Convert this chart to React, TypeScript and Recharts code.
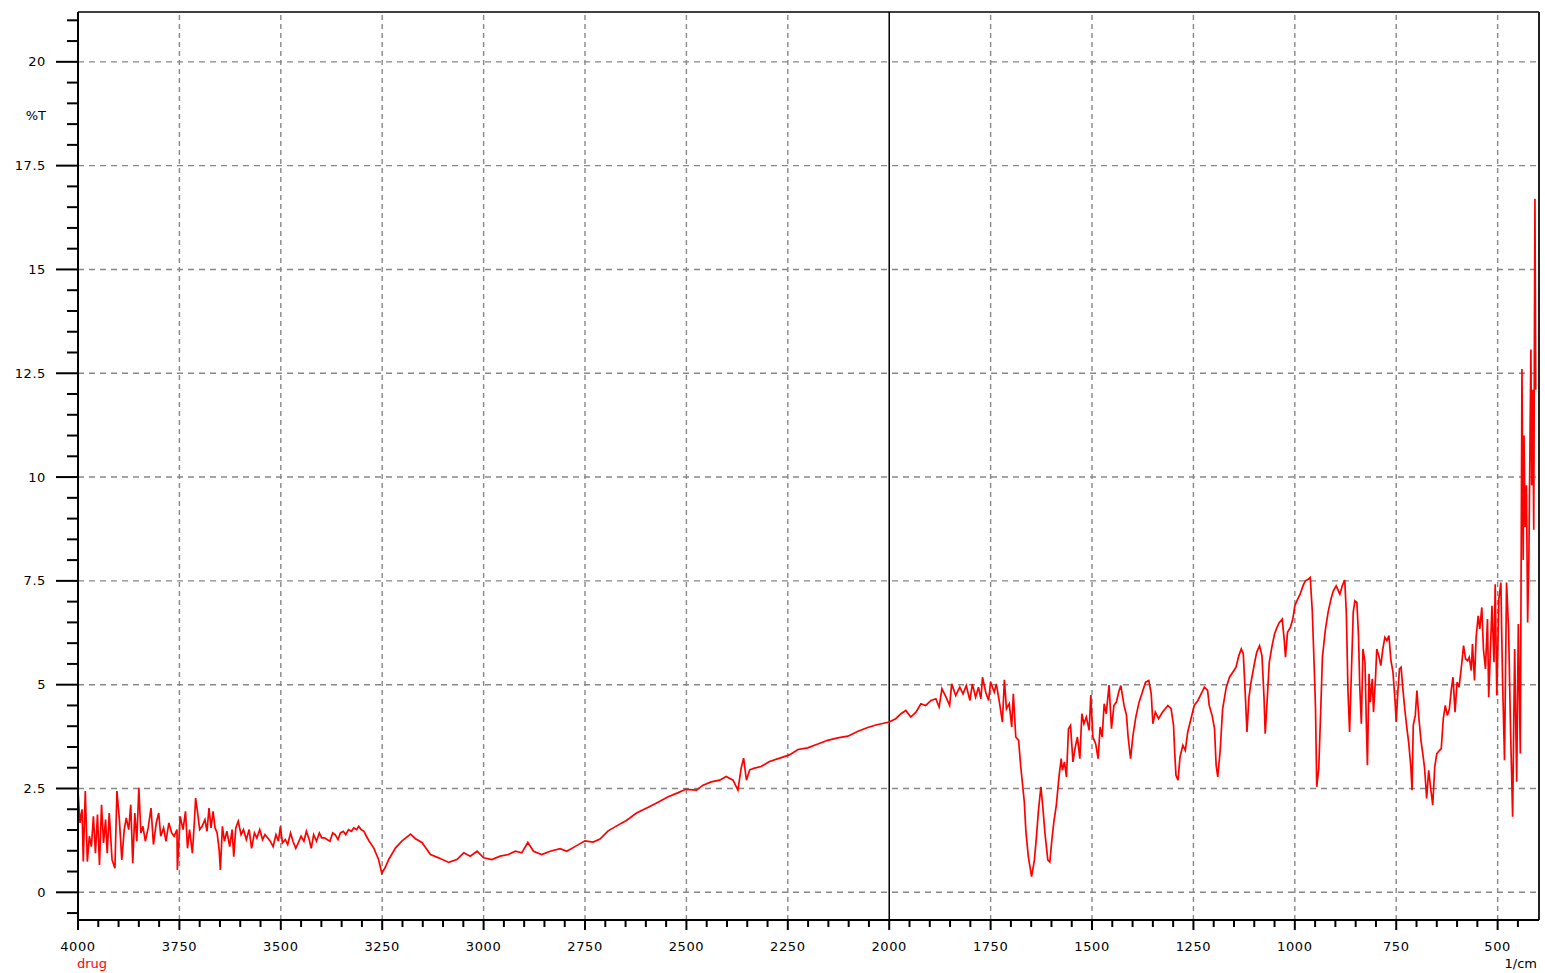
import { Line, LineChart, ReferenceLine, XAxis, YAxis } from "recharts";

// IR spectrum: [wavenumber (1/cm), %T], high → low wavenumber.
const band4000to3280: [number, number][] = [
  [4000, 2.44], [3995, 1.67], [3990, 2.0], [3987, 0.74], [3982, 2.44], [3977, 0.74],
  [3972, 1.35], [3967, 1.1], [3962, 1.83], [3957, 0.94], [3952, 1.87], [3947, 0.66],
  [3942, 2.11], [3937, 1.19], [3932, 1.75], [3928, 0.94], [3923, 1.91], [3916, 0.78],
  [3909, 0.58], [3904, 2.44], [3898, 1.75], [3892, 0.78], [3886, 1.51], [3881, 1.79],
  [3875, 1.51], [3870, 2.11], [3865, 0.7], [3860, 1.91], [3855, 1.23], [3850, 2.52],
  [3845, 1.43], [3840, 1.59], [3834, 1.23], [3827, 1.55], [3820, 2.03], [3814, 1.15],
  [3807, 1.67], [3801, 1.91], [3796, 1.35], [3789, 1.55], [3783, 1.23], [3776, 1.67],
  [3769, 1.43], [3763, 1.35], [3756, 1.51], [3755, 0.54], [3748, 1.83], [3741, 1.51],
  [3735, 1.95], [3730, 1.06], [3725, 1.51], [3718, 0.94], [3713, 1.71], [3710, 2.27],
  [3705, 1.91], [3700, 1.51], [3694, 1.59], [3687, 1.75], [3682, 1.47], [3677, 2.03],
  [3672, 1.55], [3667, 1.95], [3662, 1.55], [3657, 1.43], [3652, 1.02], [3649, 0.54],
  [3644, 1.59], [3639, 1.23], [3633, 1.47], [3626, 1.1], [3620, 1.51], [3616, 0.86],
  [3611, 1.55], [3605, 1.71], [3598, 1.39], [3592, 1.51], [3585, 1.27], [3578, 1.51],
  [3572, 1.06], [3565, 1.43], [3559, 1.31], [3552, 1.51], [3545, 1.27], [3539, 1.39],
  [3532, 1.31], [3526, 1.23], [3519, 1.1], [3512, 1.39], [3506, 1.23], [3501, 1.59],
  [3496, 1.19], [3489, 1.27], [3483, 1.15], [3476, 1.43], [3470, 1.23], [3463, 1.06],
  [3457, 1.19], [3450, 1.35], [3443, 1.23], [3437, 1.47], [3430, 1.27], [3425, 1.06],
  [3419, 1.39], [3412, 1.23], [3405, 1.43], [3399, 1.31], [3392, 1.31], [3386, 1.27],
  [3379, 1.23], [3372, 1.43], [3366, 1.39], [3359, 1.27], [3353, 1.43], [3346, 1.47],
  [3340, 1.39], [3333, 1.51], [3326, 1.47], [3320, 1.55], [3313, 1.51], [3308, 1.59],
  [3302, 1.51], [3295, 1.47], [3289, 1.35], [3282, 1.23],
];

const band3280to2030: [number, number][] = [
  [3271, 1.07], [3259, 0.79], [3251, 0.46], [3243, 0.59], [3234, 0.79], [3217, 1.07],
  [3201, 1.24], [3180, 1.4], [3168, 1.29], [3152, 1.2], [3131, 0.91], [3111, 0.83],
  [3086, 0.72], [3066, 0.79], [3049, 0.95], [3033, 0.87], [3016, 0.99], [3000, 0.83],
  [2980, 0.79], [2959, 0.87], [2939, 0.91], [2922, 0.99], [2906, 0.95], [2891, 1.2],
  [2877, 0.99], [2857, 0.91], [2836, 0.99], [2811, 1.05], [2795, 0.99], [2775, 1.1],
  [2750, 1.24], [2730, 1.21], [2713, 1.28], [2693, 1.48], [2672, 1.6], [2648, 1.73],
  [2623, 1.91], [2594, 2.05], [2570, 2.17], [2545, 2.3], [2520, 2.4], [2502, 2.48],
  [2475, 2.46], [2459, 2.58], [2439, 2.66], [2418, 2.7], [2402, 2.79], [2385, 2.7],
  [2373, 2.46], [2365, 2.99], [2359, 3.23], [2352, 2.7], [2344, 2.95], [2332, 2.99],
  [2316, 3.03], [2295, 3.15], [2270, 3.23], [2246, 3.31], [2225, 3.44], [2201, 3.48],
  [2176, 3.57], [2152, 3.66], [2127, 3.72], [2102, 3.76], [2077, 3.88], [2053, 3.97],
  [2033, 4.03],
];

const band2000to1360: [number, number][] = [
  [2000, 4.1], [1984, 4.18], [1971, 4.3], [1959, 4.38], [1947, 4.22], [1934, 4.34],
  [1922, 4.54], [1910, 4.5], [1897, 4.62], [1885, 4.66], [1877, 4.46], [1870, 4.9],
  [1860, 4.7], [1851, 4.5], [1846, 5.02], [1836, 4.74], [1826, 4.94], [1818, 4.78],
  [1810, 4.98], [1801, 4.62], [1795, 5.02], [1787, 4.7], [1780, 4.94], [1774, 4.66],
  [1770, 5.18], [1762, 4.82], [1755, 4.62], [1750, 5.06], [1741, 4.82], [1736, 5.02],
  [1729, 4.62], [1721, 4.1], [1716, 5.12], [1711, 4.42], [1704, 4.54], [1698, 3.98],
  [1694, 4.78], [1688, 3.74], [1681, 3.66], [1676, 3.06], [1667, 2.18], [1663, 1.46],
  [1657, 0.86], [1649, 0.38], [1642, 0.78], [1637, 1.34], [1632, 1.98], [1626, 2.54],
  [1621, 2.02], [1616, 1.42], [1609, 0.78], [1604, 0.73], [1599, 1.26], [1594, 1.7],
  [1588, 2.1], [1581, 2.82], [1576, 3.22], [1573, 2.94], [1568, 3.14], [1563, 2.78],
  [1558, 3.94], [1553, 4.02], [1547, 3.14], [1542, 3.46], [1536, 3.74], [1530, 3.22],
  [1525, 4.3], [1520, 4.06], [1514, 4.22], [1507, 3.9], [1503, 4.75], [1498, 3.74],
  [1491, 3.58], [1485, 3.22], [1480, 3.98], [1475, 3.74], [1470, 4.54], [1465, 4.3],
  [1458, 4.99], [1452, 3.94], [1446, 4.5], [1440, 4.58], [1434, 4.83], [1429, 4.98],
  [1421, 4.5], [1415, 4.26], [1411, 3.74], [1405, 3.22], [1399, 3.78], [1392, 4.22],
  [1384, 4.58], [1376, 4.82], [1368, 5.06], [1360, 5.1],
];

const band1355to895: [number, number][] = [
  [1354, 4.78], [1350, 4.06], [1344, 4.34], [1336, 4.18], [1326, 4.34], [1313, 4.5],
  [1305, 4.42], [1299, 4.02], [1296, 3.34], [1293, 2.82], [1288, 2.7], [1283, 3.26],
  [1276, 3.54], [1270, 3.42], [1264, 3.86], [1256, 4.18], [1248, 4.5], [1239, 4.62],
  [1231, 4.78], [1223, 4.94], [1215, 4.86], [1211, 4.5], [1204, 4.26], [1198, 3.94],
  [1194, 3.06], [1190, 2.78], [1184, 3.42], [1178, 4.42], [1169, 4.94], [1161, 5.18],
  [1153, 5.3], [1145, 5.42], [1138, 5.7], [1132, 5.86], [1127, 5.74], [1122, 4.74],
  [1118, 3.86], [1113, 4.7], [1108, 5.06], [1099, 5.54], [1094, 5.78], [1087, 5.94],
  [1081, 5.7], [1076, 4.7], [1073, 3.82], [1068, 4.66], [1063, 5.54], [1056, 5.94],
  [1050, 6.22], [1044, 6.38], [1038, 6.5], [1031, 6.58], [1026, 6.06], [1023, 5.66],
  [1018, 6.26], [1011, 6.38], [1005, 6.58], [1000, 6.9], [993, 7.06], [987, 7.18],
  [980, 7.38], [974, 7.5], [967, 7.54], [962, 7.58], [957, 6.78], [952, 5.38],
  [949, 4.42], [946, 2.54], [941, 2.98], [936, 4.42], [932, 5.66], [925, 6.3],
  [918, 6.74], [911, 7.06], [905, 7.26], [898, 7.38],
];

const band890to405: [number, number][] = [
  [889, 7.18], [883, 7.38], [877, 7.52], [873, 6.74], [869, 4.86], [865, 3.86],
  [861, 5.14], [856, 6.74], [852, 7.02], [847, 6.98], [843, 6.18], [840, 4.98],
  [836, 4.06], [832, 5.86], [827, 5.54], [824, 4.18], [821, 3.06], [817, 5.26],
  [814, 4.58], [809, 5.14], [806, 4.34], [801, 5.18], [798, 5.86], [793, 5.7],
  [788, 5.46], [783, 5.86], [778, 6.14], [773, 6.06], [768, 6.18], [763, 5.58],
  [758, 5.3], [753, 4.62], [750, 4.1], [746, 4.82], [742, 5.38], [738, 5.42],
  [734, 4.94], [729, 4.42], [724, 3.98], [719, 3.58], [714, 3.02], [711, 2.46],
  [708, 4.02], [703, 4.26], [699, 4.86], [694, 4.18], [689, 3.66], [684, 3.3],
  [680, 2.98], [675, 2.26], [670, 2.94], [665, 2.5], [660, 2.1], [655, 3.02],
  [650, 3.34], [643, 3.42], [639, 3.46], [634, 4.18], [629, 4.5], [624, 4.26],
  [619, 4.42], [614, 4.9], [610, 5.18], [605, 4.34], [600, 5.06], [595, 4.94],
  [589, 5.46], [584, 5.94], [579, 5.62], [574, 5.58], [570, 5.66], [565, 5.34],
  [562, 5.98], [557, 5.1], [553, 6.14], [548, 6.66], [544, 6.34], [539, 6.86],
  [535, 5.86], [530, 5.38], [525, 6.58], [522, 4.7], [517, 6.06], [514, 6.9],
  [509, 5.54], [506, 7.42], [502, 4.74], [497, 7.06], [492, 7.46], [488, 5.18],
  [483, 3.18], [478, 7.46], [473, 6.34], [468, 3.86], [463, 1.82], [458, 5.86],
  [453, 2.66], [449, 6.46], [444, 3.34], [440, 12.6], [437, 8.0], [435, 11.0],
  [432, 8.8], [429, 9.8], [426, 6.5], [423, 8.0], [418, 13.07], [416, 9.8],
  [413, 12.1], [411, 8.73], [408, 16.7], [406, 12.1],
];

const xMajorTicks = [4000, 3750, 3500, 3250, 3000, 2750, 2500, 2250, 2000, 1750, 1500, 1250, 1000, 750, 500];
const yMajorTicks = [0, 2.5, 5, 7.5, 10, 12.5, 15, 17.5, 20];
const yTickLabels = ["0", "2.5", "5", "7.5", "10", "12.5", "15", "17.5", "20"];

const X_DOMAIN: [number, number] = [398, 4000];
const Y_DOMAIN: [number, number] = [-0.667, 21.2];

// minor ticks: every 50 1/cm and every 0.5 %T
const xTicks: number[] = [];
for (let v = 4000; v >= 450; v -= 50) xTicks.push(v);
const yTicks: number[] = [];
for (let i = -1; i <= 42; i++) yTicks.push(i / 2);

const rows = [
  ...band4000to3280,
  ...band3280to2030,
  ...band2000to1360,
  ...band1355to895,
  ...band890to405,
].map(([wn, t]) => ({ wn, t }));

const FONT = "'DejaVu Sans', sans-serif";
const GRID = "#888888";

function XTick(props: any) {
  const { x, y, payload } = props;
  const v = payload.value as number;
  const major = v % 250 === 0;
  return (
    <g>
      <line x1={x} x2={x} y1={y} y2={y + (major ? 10 : 7)} stroke="#000" strokeWidth={2} />
      {major && (
        <text x={x} y={y + 31} textAnchor="middle" fontFamily={FONT} fontSize={13} letterSpacing={0.6} fill="#000">
          {v}
        </text>
      )}
    </g>
  );
}

function YTick(props: any) {
  const { x, y, payload } = props;
  const v = payload.value as number;
  const idx = yMajorTicks.indexOf(v);
  const major = idx >= 0;
  return (
    <g>
      <line x1={x} x2={x - (major ? 22 : 11)} y1={y} y2={y} stroke="#000" strokeWidth={2} />
      {major && (
        <text x={x - 32} y={y + 4.5} textAnchor="end" fontFamily={FONT} fontSize={13} letterSpacing={0.6} fill="#000">
          {yTickLabels[idx]}
        </text>
      )}
    </g>
  );
}

export default function App() {
  const hGrid = yMajorTicks;
  const vGrid = xMajorTicks.filter((v) => v !== 4000 && v !== 2000);
  return (
    <div style={{ position: "absolute", left: 0, top: 0, width: 1545, height: 973, background: "#fff" }}>
      <LineChart width={1545} height={973} data={rows} margin={{ top: 12, right: 6, bottom: 0, left: 0 }}>
        <XAxis
          dataKey="wn"
          type="number"
          domain={X_DOMAIN}
          reversed
          allowDataOverflow
          ticks={xTicks}
          interval={0}
          tick={(p: any) => <XTick {...p} />}
          tickLine={false}
          tickSize={0}
          tickMargin={0}
          height={53}
          axisLine={{ stroke: "#000", strokeWidth: 2 }}
        />
        <YAxis
          type="number"
          domain={Y_DOMAIN}
          allowDataOverflow
          ticks={yTicks}
          interval={0}
          tick={(p: any) => <YTick {...p} />}
          tickLine={false}
          tickSize={0}
          tickMargin={0}
          width={78}
          axisLine={{ stroke: "#000", strokeWidth: 2 }}
        />
        {hGrid.map((v) => (
          <ReferenceLine key={`h${v}`} y={v} stroke={GRID} strokeWidth={1.4} strokeDasharray="6 5" />
        ))}
        {vGrid.map((v) => (
          <ReferenceLine key={`v${v}`} x={v} stroke={GRID} strokeWidth={1.4} strokeDasharray="5 4" />
        ))}
        <ReferenceLine x={2000} stroke="#000" strokeWidth={1.5} />
        <ReferenceLine y={Y_DOMAIN[1]} stroke="#000" strokeWidth={1.5} />
        <ReferenceLine x={X_DOMAIN[0]} stroke="#222" strokeWidth={2} />
        <Line
          type="linear"
          dataKey="t"
          stroke="#ff0000"
          strokeWidth={1.7}
          dot={false}
          activeDot={false}
          isAnimationActive={false}
        />
      </LineChart>
      <svg width={1545} height={973} style={{ position: "absolute", left: 0, top: 0, pointerEvents: "none" }}>
        <text x={46} y={120} textAnchor="end" fontFamily={FONT} fontSize={13} fill="#000">
          %T
        </text>
        <text x={77} y={968} fontFamily={FONT} fontSize={13} fill="#ff0000">
          drug
        </text>
        <text x={1537} y={968} textAnchor="end" fontFamily={FONT} fontSize={13} fill="#000">
          1/cm
        </text>
      </svg>
    </div>
  );
}
